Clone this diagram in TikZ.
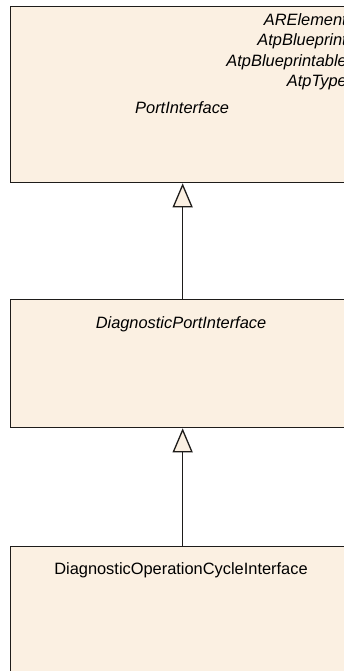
\documentclass[tikz,border=0pt]{standalone}
\usepackage{fontspec}
\setmainfont{Liberation Sans}
\usetikzlibrary{arrows.meta, positioning}
\definecolor{classfill}{RGB}{251, 240, 226}
\definecolor{edge}{RGB}{30, 28, 26}
\tikzset{
    classbox/.style={rectangle, draw=edge, line width=1.3pt, fill=classfill, anchor=north west, inner sep=0pt},
    classname/.style={font=\fontsize{16.4}{19}\selectfont, inner sep=0pt},
    parentname/.style={classname, font=\fontsize{16.4}{19}\selectfont\itshape, anchor=east},
    inherit/.style={-{Triangle[open, length=24pt, width=20pt, fill=classfill]}, line width=1.3pt, draw=edge}
}
\begin{document}
\begin{tikzpicture}[x=1pt, y=-1pt]
                \useasboundingbox (0,0) rectangle (344,671);
                \clip (0,0) rectangle (344,671);
                \node[classbox, minimum width=344pt, minimum height=176pt] (port) at (10,6) {};
                \node[classbox, minimum width=344pt, minimum height=128pt] (diag) at (10,299) {};
                \node[classbox, minimum width=344pt, minimum height=140pt] (cycle) at (10,546) {};
                % inherited names, cut by the right edge
                \node[parentname] (are) at (347,20) {ARElement};
                \node[parentname] (atpbp) at (347,41) {AtpBlueprint};
                \node[parentname] (atpbpa) at (347,62) {AtpBlueprintable};
                \node[parentname] (atptype) at (347,83) {AtpType};
                \node[classname, font=\fontsize{16.4}{19}\selectfont\itshape, anchor=west] (portname) at (135,108) {PortInterface};
                \node[classname, font=\fontsize{16.4}{19}\selectfont\itshape] (diagname) at (181,324) {DiagnosticPortInterface};
                \node[classname] (cyclename) at (181,570) {DiagnosticOperationCycleInterface};
                \draw[inherit] (diag.north) -- (port.south);
                \draw[inherit] (cycle.north) -- (diag.south);
            \end{tikzpicture}
\end{document}
